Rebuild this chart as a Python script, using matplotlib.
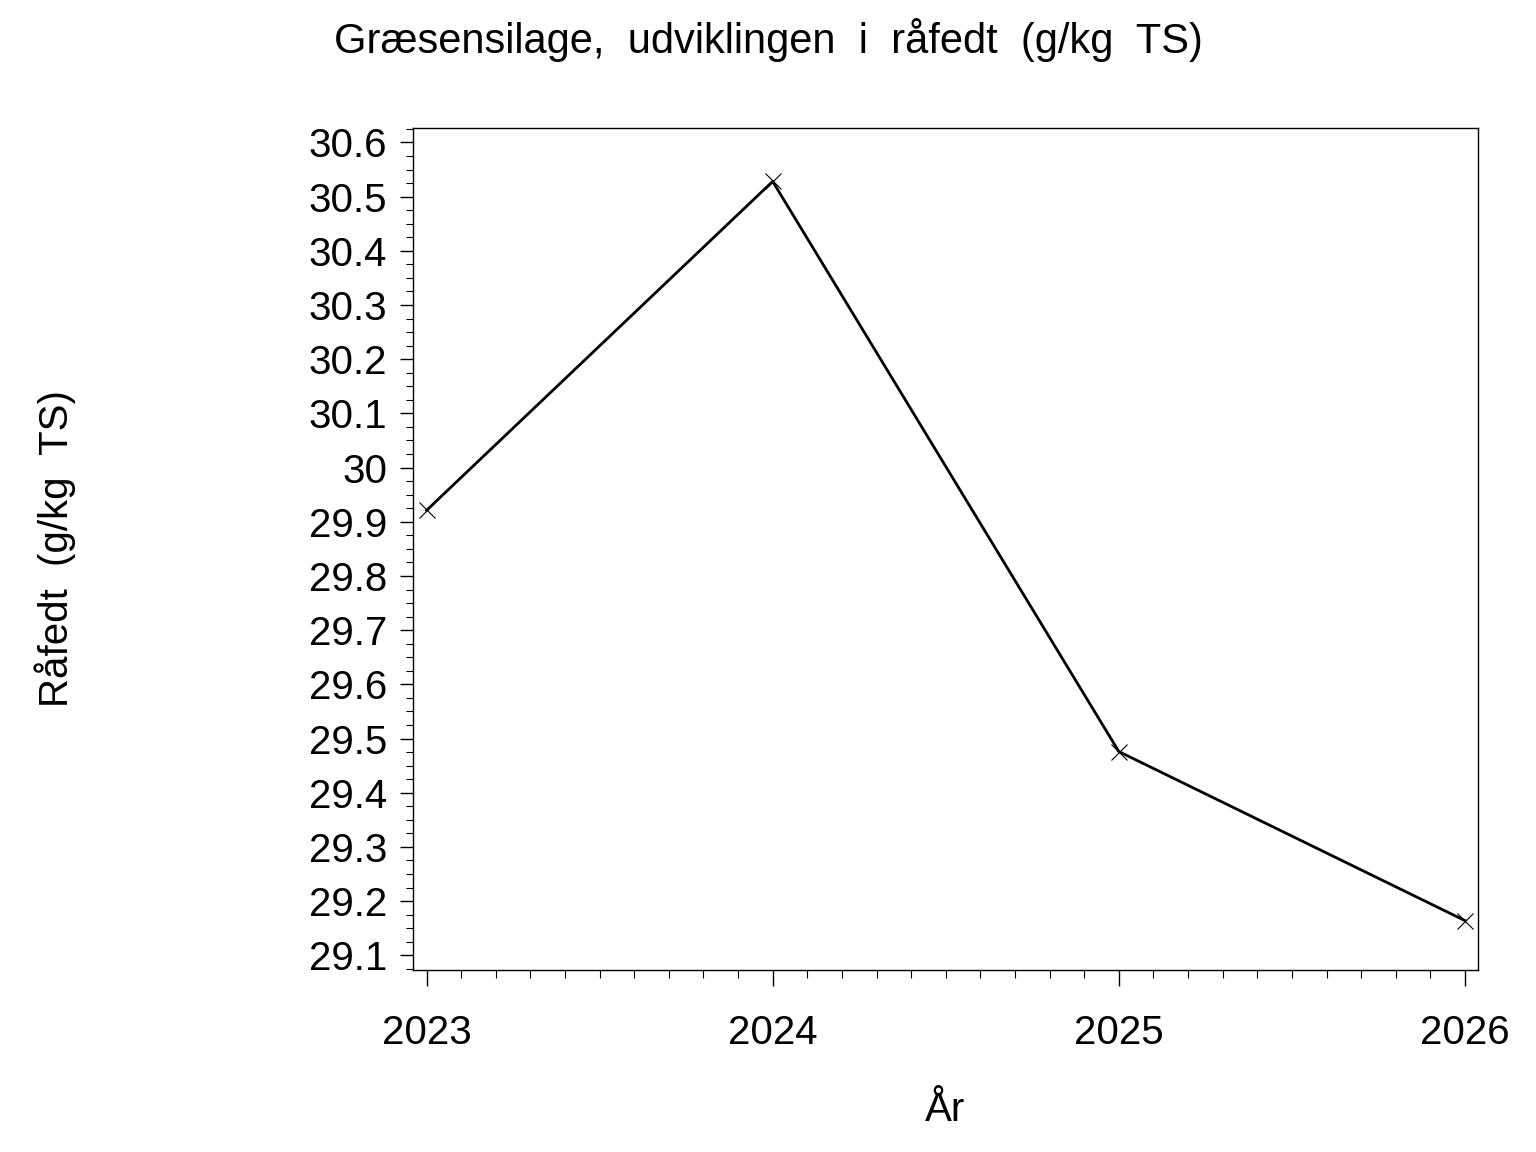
import matplotlib
matplotlib.use("Agg")
import matplotlib.pyplot as plt
from matplotlib.ticker import MultipleLocator, FuncFormatter

years = [2023, 2024, 2025, 2026]
raafedt = [29.921, 30.528, 29.476, 29.164]
title = "Græsensilage,  udviklingen  i  råfedt  (g/kg  TS)"
xlabel = "År"
ylabel = "Råfedt  (g/kg  TS)"

plt.rcParams['font.family'] = ['Liberation Sans', 'DejaVu Sans']

fig = plt.figure(figsize=(15.36, 11.52), dpi=100)
ax = fig.add_axes([413/1536, 1 - 970/1152, (1478-413)/1536, (970-128)/1152])

ax.plot(years, raafedt, color='black', linewidth=2.0, marker='x',
        markersize=11.5, markeredgewidth=0.8)

ax.set_xlim(2022.961, 2026.0375)
ax.set_ylim(29.0729, 30.6266)

ax.xaxis.set_major_locator(MultipleLocator(1))
ax.xaxis.set_minor_locator(MultipleLocator(0.1))
ax.yaxis.set_major_locator(MultipleLocator(0.1))
ax.yaxis.set_minor_locator(MultipleLocator(0.025))
ax.yaxis.set_major_formatter(FuncFormatter(lambda v, p: f"{round(v, 1):g}"))
ax.xaxis.set_major_formatter(FuncFormatter(lambda v, p: f"{int(round(v))}"))

for s in ax.spines.values():
    s.set_linewidth(1.0)

ax.tick_params(axis='both', which='major', direction='out', width=1.0,
               labelsize=29, color='black')
ax.tick_params(axis='y', which='major', length=9.5, pad=9)
ax.tick_params(axis='x', which='major', length=11.5, pad=20)
ax.tick_params(axis='y', which='minor', length=5, width=0.8)
ax.tick_params(axis='x', which='minor', length=5.8, width=0.8)

fig.text(0.5, 1 - 40/1152, title, ha='center', va='center', fontsize=30)
fig.text(945.5/1536, 1 - 1110/1152, xlabel, ha='center', va='center', fontsize=29)
fig.text(55/1536, 1 - 549/1152, ylabel, ha='center', va='center', fontsize=29,
         rotation=90)

fig.savefig("out.png", dpi=100)
